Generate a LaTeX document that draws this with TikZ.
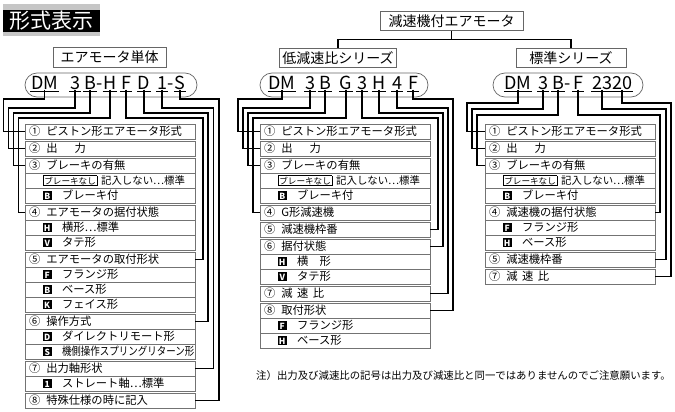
\documentclass[tikz,border=0pt]{standalone}
\usepackage{fontspec}
\setmainfont{Noto Sans CJK JP}
\usetikzlibrary{positioning}
\newcommand\rowfont{\fontsize{11.3}{13}\selectfont}
\newcommand\headfont{\fontsize{14}{16}\selectfont}
\newcommand\codefont{\fontsize{18}{18}\selectfont}
\newcommand\notefont{\fontsize{10.4}{12}\selectfont}
\newcommand\titlefont{\fontsize{21}{22}\selectfont}
\newcommand\nsep{\hspace{6pt}}
\newcommand\keyletter[1]{{\setlength{\fboxsep}{0pt}\colorbox{black}{\makebox[8.5pt]{\rule[-0.5pt]{0pt}{9.5pt}\color{white}\fontsize{8.5}{9}\selectfont\bfseries #1}}}}
\newcommand\subrow[2]{\hspace*{14pt}\keyletter{#1}\hspace{10.5pt}#2}
\newcommand\nobrake{\hspace*{14pt}{\setlength{\fboxsep}{0.8pt}\setlength{\fboxrule}{0.5pt}\fbox{\fontsize{8.6}{9}\selectfont ブレーキなし}}\hspace{4pt}{\fontsize{10.4}{12}\selectfont 記入しない⋯標準}}
\tikzset{
  rowbox/.style={draw=black!55, line width=0.6pt, outer sep=0pt, minimum height=15pt,
    text width=162pt, inner xsep=4pt, inner ysep=0pt, align=left, font=\rowfont,
    execute at begin node={\hbox\bgroup}, execute at end node={\egroup}},
  head/.style={draw=black!60, line width=0.7pt, font=\headfont, minimum height=18pt, inner xsep=3pt},
  codeoval/.style={draw=black!60, line width=0.7pt, rounded corners=12pt, minimum height=24pt},
  code/.style={font=\codefont, inner sep=0.5pt, anchor=base},
  uline/.style={line width=1.3pt},
  wire/.style={line width=1.2pt, black}
}
\begin{document}
\begin{tikzpicture}[x=1pt,y=-1pt]
\useasboundingbox (0,0) rectangle (675,412);
%title
\fill[gray!45] (3,4) rectangle (100,36);
\node[fill=black, text=white, font=\titlefont, minimum width=97pt, minimum height=22pt, inner sep=0pt] (title) at (51.5,21) {形式表示};
%headings
\node[head, minimum width=143pt] (top) at (451.5,21) {減速機付エアモータ};
\node[head, minimum width=113pt] (lhead) at (109.5,57.5) {エアモータ単体};
\node[head, minimum width=114pt] (mhead) at (338,58) {低減速比シリーズ};
\node[head, minimum width=110pt] (rhead) at (571,58) {標準シリーズ};
\draw[wire] (top.south) -- ++(0,8) coordinate (fork);
\draw[wire] (fork) -| (mhead.north);
\draw[wire] (fork) -| (rhead.north);
%model codes
\node[codeoval, minimum width=172pt] (lov) at (111,85) {};
\node[codeoval, minimum width=168pt] (mov) at (344,85) {};
\node[codeoval, minimum width=150pt] (rov) at (568,85) {};
\node[code] (lc1) at (44.5,89) {DM};
\node[code] (lc2) at (75,89) {3};
\node[code] (lc3) at (90,89) {B};
\node[code] (lh1) at (100,89) {-};
\node[code] (lc4) at (110,89) {H};
\node[code] (lc5) at (126,89) {F};
\node[code] (lc6) at (144,89) {D};
\node[code] (lc7) at (162,89) {1};
\node[code] (lh2) at (171,89) {-};
\node[code] (lc8) at (180,89) {S};
\node[code] (mc1) at (282,89) {DM};
\node[code] (mc2) at (310,89) {3};
\node[code] (mc3) at (325,89) {B};
\node[code] (mc4) at (346,89) {G};
\node[code] (mc5) at (362,89) {3};
\node[code] (mc6) at (379,89) {H};
\node[code] (mc7) at (397,89) {4};
\node[code] (mc8) at (413,89) {F};
\node[code] (rc1) at (518,89) {DM};
\node[code] (rc2) at (543,89) {3};
\node[code] (rc3) at (558,89) {B};
\node[code] (rh1) at (568,89) {-};
\node[code] (rc4) at (578,89) {F};
\node[code] (rc5) at (602,89) {23};
\node[code] (rc6) at (622,89) {20};
\foreach \n in {lc1,lc2,lc3,lc4,lc5,lc6,lc7,lc8,mc1,mc2,mc3,mc4,mc5,mc6,mc7,mc8,rc1,rc2,rc3,rc4,rc5,rc6}
{
\draw[uline] ([yshift=-1.5pt]\n.south west) -- ([yshift=-1.5pt]\n.south east);
}
%left panel: air motor only
\node[rowbox, anchor=north west] (lr1) at (25,124) {①\nsep ピストン形エアモータ形式};
\node[rowbox, below=2pt of lr1] (lr2) {②\nsep 出\hspace{17pt}力};
\node[rowbox, below=2pt of lr2] (lr3) {③\nsep ブレーキの有無};
\node[rowbox, below=0pt of lr3] (lr3a) {\nobrake};
\node[rowbox, below=0pt of lr3a] (lr3b) {\subrow{B}{ブレーキ付}};
\node[rowbox, below=2pt of lr3b] (lr4) {④\nsep エアモータの据付状態};
\node[rowbox, below=0pt of lr4] (lr4a) {\subrow{H}{横形⋯標準}};
\node[rowbox, below=0pt of lr4a] (lr4b) {\subrow{V}{タテ形}};
\node[rowbox, below=2pt of lr4b] (lr5) {⑤\nsep エアモータの取付形状};
\node[rowbox, below=0pt of lr5] (lr5a) {\subrow{F}{フランジ形}};
\node[rowbox, below=0pt of lr5a] (lr5b) {\subrow{B}{ベース形}};
\node[rowbox, below=0pt of lr5b] (lr5c) {\subrow{K}{フェイス形}};
\node[rowbox, below=2pt of lr5c] (lr6) {⑥\nsep 操作方式};
\node[rowbox, below=0pt of lr6] (lr6a) {\subrow{D}{ダイレクトリモート形}};
\node[rowbox, below=0pt of lr6a] (lr6b) {\subrow{S}{\scalebox{0.84}[1]{機側操作スプリングリターン形}}};
\node[rowbox, below=2pt of lr6b] (lr7) {⑦\nsep 出力軸形状};
\node[rowbox, below=0pt of lr7] (lr7a) {\subrow{1}{ストレート軸⋯標準}};
\node[rowbox, below=2pt of lr7a] (lr8) {⑧\nsep 特殊仕様の時に記入};
%middle panel: low ratio series
\node[rowbox, anchor=north west] (mr1) at (260,124) {①\nsep ピストン形エアモータ形式};
\node[rowbox, below=2pt of mr1] (mr2) {②\nsep 出\hspace{17pt}力};
\node[rowbox, below=2pt of mr2] (mr3) {③\nsep ブレーキの有無};
\node[rowbox, below=0pt of mr3] (mr3a) {\nobrake};
\node[rowbox, below=0pt of mr3a] (mr3b) {\subrow{B}{ブレーキ付}};
\node[rowbox, below=2pt of mr3b] (mr4) {④\nsep G形減速機};
\node[rowbox, below=2pt of mr4] (mr5) {⑤\nsep 減速機枠番};
\node[rowbox, below=2pt of mr5] (mr6) {⑥\nsep 据付状態};
\node[rowbox, below=0pt of mr6] (mr6a) {\subrow{H}{横　形}};
\node[rowbox, below=0pt of mr6a] (mr6b) {\subrow{V}{タテ形}};
\node[rowbox, below=2pt of mr6b] (mr7) {⑦\nsep 減\hspace{4.5pt}速\hspace{4.5pt}比};
\node[rowbox, below=2pt of mr7] (mr8) {⑧\nsep 取付形状};
\node[rowbox, below=0pt of mr8] (mr8a) {\subrow{F}{フランジ形}};
\node[rowbox, below=0pt of mr8a] (mr8b) {\subrow{H}{ベース形}};
%right panel: standard series
\node[rowbox, anchor=north west] (rr1) at (485,124) {①\nsep ピストン形エアモータ形式};
\node[rowbox, below=2pt of rr1] (rr2) {②\nsep 出\hspace{17pt}力};
\node[rowbox, below=2pt of rr2] (rr3) {③\nsep ブレーキの有無};
\node[rowbox, below=0pt of rr3] (rr3a) {\nobrake};
\node[rowbox, below=0pt of rr3a] (rr3b) {\subrow{B}{ブレーキ付}};
\node[rowbox, below=2pt of rr3b] (rr4) {④\nsep 減速機の据付状態};
\node[rowbox, below=0pt of rr4] (rr4a) {\subrow{F}{フランジ形}};
\node[rowbox, below=0pt of rr4a] (rr4b) {\subrow{H}{ベース形}};
\node[rowbox, below=2pt of rr4b] (rr5) {⑤\nsep 減速機枠番};
\node[rowbox, below=2pt of rr5] (rr7) {⑦\nsep 減\hspace{4.5pt}速\hspace{4.5pt}比};
%connectors from code letters to items
\foreach \c/\lv/\xx/\r/\s in {lc1/99/3.5/lr1/west, lc2/108/8.5/lr2/west, lc3/113/13.5/lr3/west, lc4/118/18.5/lr4/west,
  lc5/118/203/lr5/east, lc6/113/208/lr6/east, lc7/108/213.5/lr7/east, lc8/99/219/lr8/east,
  mc1/99/238/mr1/west, mc2/108/243/mr2/west, mc3/113/248/mr3/west, mc4/118/253/mr4/west,
  mc5/118/438/mr5/east, mc6/113/443/mr6/east, mc7/108/448/mr7/east, mc8/99/453/mr8/east,
  rc1/103/467/rr1/west, rc2/109/472/rr2/west, rc3/115/477/rr3/west,
  rc4/115/660/rr4/east, rc5/109/666/rr5/east, rc6/103/671/rr7/east}
{
\draw[wire] (\c.south) |- (\xx,\lv) |- (\r.\s);
}
%note
\node[anchor=west, font=\notefont, inner sep=0pt] (note) at (256,376) {注）出力及び減速比の記号は出力及び減速比と同一ではありませんのでご注意願います。};
\end{tikzpicture}
\end{document}
